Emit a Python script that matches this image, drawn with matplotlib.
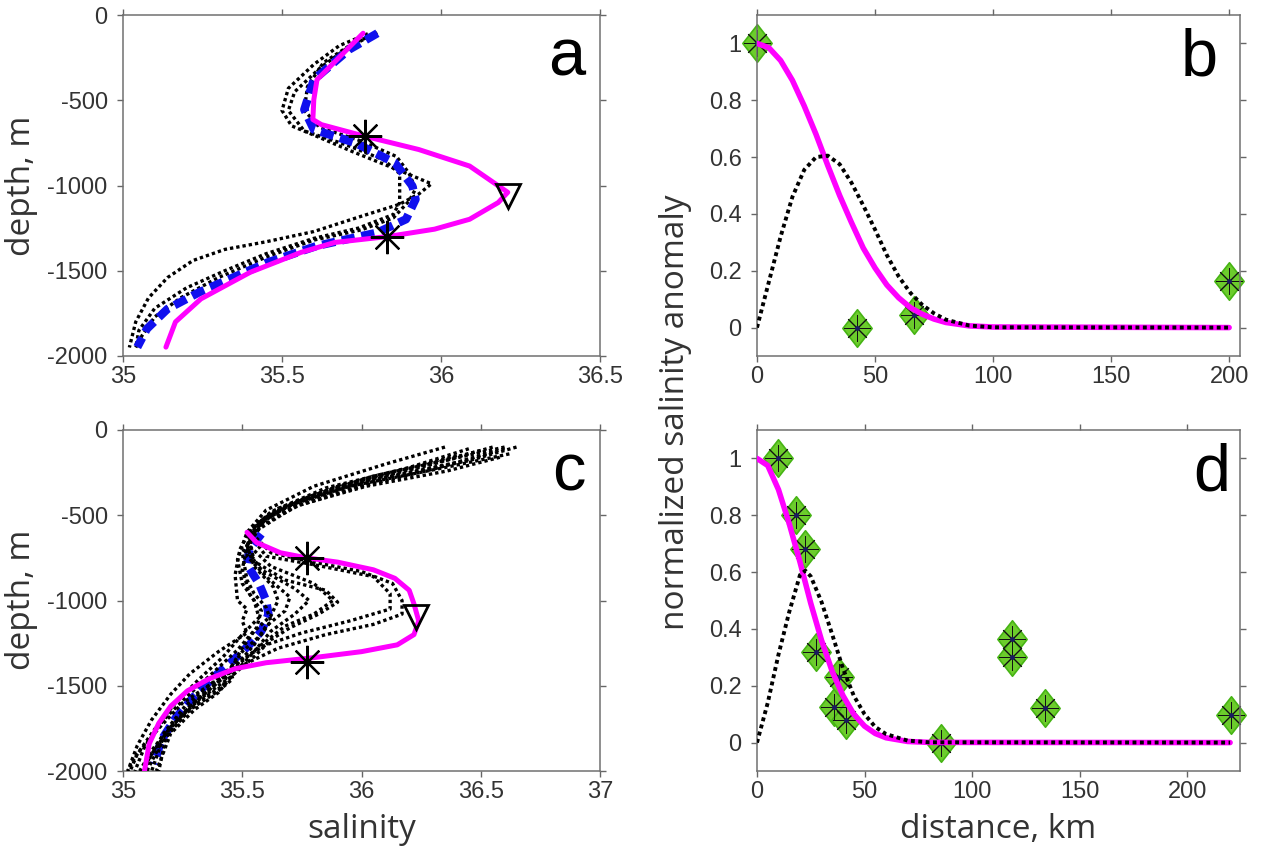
import matplotlib
matplotlib.use('Agg')
import matplotlib.pyplot as plt
from matplotlib.path import Path

# ---------------- data ----------------
# panel a: salinity profiles (salinity, depth)
a_dot1_s = [35.77, 35.68, 35.60, 35.52, 35.50, 35.53, 35.62, 35.72, 35.80, 35.88, 35.97, 35.93, 35.87, 35.75, 35.60, 35.45, 35.32, 35.22, 35.14, 35.08, 35.04, 35.02]
a_dot1_d = [-110, -180, -290, -430, -560, -650, -720, -800, -860, -920, -990, -1050, -1110, -1180, -1270, -1330, -1375, -1440, -1540, -1660, -1800, -1950]
a_dot2_s = [35.79, 35.70, 35.62, 35.54, 35.52, 35.57, 35.70, 35.82, 35.87, 35.87, 35.87, 35.85, 35.74, 35.60, 35.45, 35.32, 35.20, 35.10, 35.05, 35.04]
a_dot2_d = [-110, -200, -310, -450, -560, -680, -760, -850, -930, -1000, -1100, -1170, -1250, -1310, -1400, -1500, -1600, -1720, -1850, -1950]
a_dot3_s = [35.80, 35.72, 35.63, 35.58, 35.57, 35.62, 35.75, 35.86, 35.90, 35.92, 35.90, 35.85, 35.75, 35.60, 35.45, 35.30, 35.18, 35.10, 35.06, 35.04]
a_dot3_d = [-105, -170, -280, -420, -560, -660, -740, -830, -930, -1020, -1090, -1190, -1260, -1320, -1420, -1540, -1660, -1770, -1880, -1950]
a_mean_s = [35.80, 35.71, 35.60, 35.57, 35.60, 35.73, 35.855, 35.91, 35.92, 35.89, 35.80, 35.61, 35.455, 35.24, 35.14, 35.075, 35.045]
a_mean_d = [-107, -204, -380, -555, -672, -750, -867, -1003, -1081, -1198, -1276, -1354, -1451, -1626, -1724, -1841, -1948]
a_fit_s = [35.755, 35.61, 35.60, 35.597, 35.624, 35.76, 35.93, 36.09, 36.21, 36.18, 36.09, 35.98, 35.834, 35.666, 35.56, 35.40, 35.245, 35.165, 35.135]
a_fit_d = [-107, -380, -497, -613, -643, -711, -789, -886, -1040, -1100, -1198, -1256, -1299, -1334, -1392, -1509, -1665, -1800, -1948]
a_star_s = [35.76, 35.83]
a_star_d = [-710, -1300]
a_tri_s = [36.21]
a_tri_d = [-1060]

# panel c: salinity profiles
c_dotA_s = [36.65, 36.45, 36.10, 35.80, 35.60, 35.55, 35.62, 35.78, 36.00, 36.13, 36.17, 36.17, 36.05, 35.85, 35.65, 35.50, 35.38, 35.25, 35.15, 35.06, 35.03]
c_dotA_d = [-100, -180, -280, -400, -520, -620, -720, -770, -830, -900, -1000, -1080, -1140, -1200, -1280, -1380, -1480, -1600, -1750, -1900, -2000]
c_dotB_s = [36.60, 36.40, 36.05, 35.75, 35.58, 35.54, 35.60, 35.80, 36.05, 36.12, 36.12, 35.95, 35.75, 35.60, 35.48, 35.36, 35.26, 35.17, 35.08]
c_dotB_d = [-110, -190, -290, -410, -530, -630, -740, -790, -860, -960, -1050, -1120, -1190, -1260, -1360, -1500, -1620, -1780, -2000]
c_dotC_s = [36.55, 36.30, 35.95, 35.70, 35.56, 35.53, 35.62, 35.80, 35.88, 35.80, 35.68, 35.58, 35.48, 35.38, 35.28, 35.18, 35.10]
c_dotC_d = [-100, -200, -320, -440, -560, -680, -800, -900, -1000, -1080, -1150, -1260, -1380, -1500, -1620, -1780, -2000]
c_dotD_s = [36.50, 36.25, 35.90, 35.66, 35.55, 35.52, 35.58, 35.72, 35.78, 35.72, 35.62, 35.55, 35.47, 35.40, 35.30, 35.20, 35.14]
c_dotD_d = [-120, -210, -330, -460, -580, -700, -820, -930, -1000, -1080, -1180, -1300, -1420, -1540, -1640, -1780, -2000]
c_dotE_s = [36.45, 36.20, 35.85, 35.62, 35.53, 35.52, 35.60, 35.70, 35.68, 35.60, 35.55, 35.45, 35.33, 35.22, 35.12, 35.07]
c_dotE_d = [-110, -220, -340, -480, -600, -740, -860, -980, -1060, -1150, -1260, -1420, -1560, -1700, -1880, -2000]
c_dotF_s = [36.35, 36.10, 35.80, 35.60, 35.52, 35.48, 35.50, 35.55, 35.57, 35.50, 35.42, 35.32, 35.22, 35.13, 35.05, 35.02]
c_dotF_d = [-100, -200, -330, -470, -600, -760, -900, -1000, -1100, -1200, -1330, -1460, -1600, -1760, -1920, -2000]
c_dotG_s = [36.62, 36.35, 35.95, 35.68, 35.54, 35.49, 35.47, 35.48, 35.52, 35.50, 35.52, 35.40, 35.28, 35.20, 35.12, 35.06, 35.02]
c_dotG_d = [-140, -220, -330, -450, -570, -700, -850, -1000, -1050, -1120, -1190, -1300, -1430, -1550, -1700, -1850, -2000]
c_dotH_s = [36.55, 36.30, 36.00, 35.72, 35.56, 35.50, 35.52, 35.55, 35.60, 35.62, 35.58, 35.50, 35.44, 35.42, 35.35, 35.25, 35.16, 35.12]
c_dotH_d = [-130, -230, -330, -450, -590, -720, -880, -960, -1040, -1120, -1200, -1300, -1420, -1500, -1560, -1680, -1840, -2000]
c_dotI_s = [36.40, 36.15, 35.88, 35.65, 35.55, 35.52, 35.55, 35.63, 35.65, 35.62, 35.55, 35.50, 35.45, 35.46, 35.40, 35.28, 35.18, 35.15]
c_dotI_d = [-150, -240, -340, -460, -560, -680, -800, -920, -1000, -1090, -1180, -1280, -1400, -1460, -1530, -1640, -1800, -2000]
c_dotJ_s = [36.60, 36.38, 36.05, 35.78, 35.60, 35.53, 35.55, 35.68, 35.85, 35.90, 35.82, 35.70, 35.62, 35.55, 35.45, 35.32, 35.20, 35.12, 35.09]
c_dotJ_d = [-100, -170, -270, -390, -510, -640, -770, -880, -940, -1010, -1080, -1160, -1230, -1330, -1450, -1580, -1740, -1900, -2000]
c_dotK_s = [36.58, 36.36, 36.02, 35.74, 35.58, 35.52, 35.50, 35.53, 35.58, 35.56, 35.48, 35.38, 35.27, 35.17, 35.09, 35.05]
c_dotK_d = [-160, -240, -330, -440, -560, -680, -820, -960, -1060, -1160, -1290, -1420, -1560, -1700, -1860, -2000]
c_mean_s = [35.58, 35.53, 35.52, 35.57, 35.60, 35.61, 35.58, 35.53, 35.47, 35.38, 35.30, 35.22, 35.16, 35.13]
c_mean_d = [-610, -700, -790, -900, -1000, -1080, -1180, -1260, -1340, -1450, -1560, -1690, -1820, -1960]
c_fit_s = [35.52, 35.56, 35.66, 35.77, 35.90, 36.05, 36.14, 36.20, 36.22, 36.24, 36.22, 36.15, 36.00, 35.80, 35.60, 35.47, 35.36, 35.27, 35.20, 35.15, 35.11, 35.09]
c_fit_d = [-600, -660, -720, -750, -775, -820, -870, -940, -1020, -1120, -1200, -1260, -1300, -1335, -1365, -1400, -1460, -1530, -1620, -1720, -1840, -2000]
c_star_s = [35.77, 35.77]
c_star_d = [-750, -1360]
c_tri_s = [36.23]
c_tri_d = [-1095]

# panel b: normalized anomaly vs distance
b_fit_x = [0, 5, 10, 15, 20, 25, 30, 35, 40, 45, 50, 55, 60, 65, 70, 75, 80, 90, 100, 200]
b_fit_y = [1.0, 0.985, 0.94, 0.87, 0.78, 0.68, 0.57, 0.465, 0.37, 0.28, 0.21, 0.15, 0.105, 0.07, 0.047, 0.03, 0.018, 0.006, 0.002, 0.0]
b_dot_x = [0, 5, 10, 15, 20, 25, 30, 35, 40, 45, 50, 55, 60, 65, 70, 75, 80, 90, 100, 200]
b_dot_y = [0.0, 0.16, 0.32, 0.46, 0.555, 0.60, 0.605, 0.575, 0.51, 0.43, 0.345, 0.255, 0.18, 0.122, 0.08, 0.05, 0.028, 0.007, 0.001, 0.0]
b_obs_x = [0, 42.5, 66.5, 200]
b_obs_y = [1.0, 0.0, 0.045, 0.165]

# panel d
d_fit_x = [0, 5, 10, 15, 20, 25, 30, 35, 40, 45, 50, 55, 60, 70, 80, 220]
d_fit_y = [1.0, 0.975, 0.89, 0.77, 0.635, 0.49, 0.36, 0.25, 0.165, 0.10, 0.058, 0.032, 0.017, 0.004, 0.0007, 0.0]
d_dot_x = [0, 5, 10, 15, 20, 22.5, 25, 30, 35, 40, 45, 50, 55, 60, 70, 80, 220]
d_dot_y = [0.0, 0.14, 0.31, 0.46, 0.59, 0.605, 0.585, 0.495, 0.38, 0.26, 0.165, 0.10, 0.055, 0.03, 0.007, 0.001, 0.0]
d_obs_x = [9.7, 18.1, 22.3, 27.3, 35.7, 38.3, 41.6, 85.7, 118.6, 118.6, 133.9, 220.3]
d_obs_y = [1.0, 0.80, 0.68, 0.32, 0.125, 0.23, 0.08, 0.0, 0.365, 0.30, 0.122, 0.098]

sal_ticks_a = [35, 35.5, 36, 36.5]
sal_ticks_c = [35, 35.5, 36, 36.5, 37]
depth_ticks = [0, -500, -1000, -1500, -2000]
dist_ticks = [0, 50, 100, 150, 200]
anom_ticks = [0, 0.2, 0.4, 0.6, 0.8, 1.0]

# ---------------- style ----------------
plt.rcParams['font.family'] = ['Liberation Sans', 'DejaVu Sans']
MAG = '#ff00ff'
BLUE = '#1010ee'
DOT = (0, (1.0, 0.9))

fig = plt.figure(figsize=(12.65, 8.56), dpi=100)
W, H = 1265.0, 856.0


def box(l, r, t, b):
    return [l / W, 1 - b / H, (r - l) / W, (b - t) / H]


axa = fig.add_axes(box(123, 600, 15, 356))
axb = fig.add_axes(box(757, 1240, 15, 356))
axc = fig.add_axes(box(123, 600, 430, 771))
axd = fig.add_axes(box(757, 1240, 430, 771))


def fmt(v):
    return '%g' % v


def style(ax, xlim, xticks, ylim, yticks):
    ax.set_xlim(xlim)
    ax.set_ylim(ylim)
    ax.set_xticks(xticks)
    ax.set_yticks(yticks)
    ax.set_xticklabels([fmt(v) for v in xticks])
    ax.set_yticklabels([fmt(v) for v in yticks])
    ax.tick_params(direction='out', length=4, width=1, color='#666666',
                   labelsize=17, labelcolor='#333333', top=True, right=True)
    ax.tick_params(axis='x', pad=3.5)
    ax.tick_params(axis='y', pad=7)
    for s in ax.spines.values():
        s.set_color('#707070')
        s.set_linewidth(1.1)


# diamond marker path (slightly narrower than tall)
diam = Path([(0, 1), (0.78, 0), (0, -1), (-0.78, 0), (0, 1)],
            [Path.MOVETO, Path.LINETO, Path.LINETO, Path.LINETO, Path.CLOSEPOLY])

# ---- panel a ----
for s_, d_ in [(a_dot1_s, a_dot1_d), (a_dot2_s, a_dot2_d), (a_dot3_s, a_dot3_d)]:
    axa.plot(s_, d_, color='black', lw=2.4, linestyle=DOT, zorder=2)
axa.plot(a_mean_s, a_mean_d, color=BLUE, lw=6, dashes=(1.6, 0.8), zorder=3)
axa.plot(a_fit_s, a_fit_d, color=MAG, lw=3.6, zorder=4, solid_capstyle='round')
axa.plot(a_star_s, a_star_d, linestyle='none', marker=(8, 2, 0), ms=24, mew=1.6, color='black', zorder=5)
axa.plot(a_tri_s, a_tri_d, linestyle='none', marker='v', ms=17, mew=2, mfc='none', mec='black', zorder=5)
style(axa, (35, 36.5), sal_ticks_a, (-2000, 0), depth_ticks)

# ---- panel c ----
axc.plot(c_mean_s, c_mean_d, color=BLUE, lw=6, dashes=(1.6, 0.8), zorder=2)
for s_, d_ in [(c_dotA_s, c_dotA_d), (c_dotB_s, c_dotB_d), (c_dotC_s, c_dotC_d),
               (c_dotD_s, c_dotD_d), (c_dotE_s, c_dotE_d), (c_dotF_s, c_dotF_d),
               (c_dotG_s, c_dotG_d), (c_dotH_s, c_dotH_d), (c_dotI_s, c_dotI_d),
               (c_dotJ_s, c_dotJ_d), (c_dotK_s, c_dotK_d)]:
    axc.plot(s_, d_, color='black', lw=2.4, linestyle=DOT, zorder=3)
axc.plot(c_fit_s, c_fit_d, color=MAG, lw=3.6, zorder=4, solid_capstyle='round')
axc.plot(c_star_s, c_star_d, linestyle='none', marker=(8, 2, 0), ms=24, mew=1.6, color='black', zorder=5)
axc.plot(c_tri_s, c_tri_d, linestyle='none', marker='v', ms=17, mew=2, mfc='none', mec='black', zorder=5)
style(axc, (35, 37), sal_ticks_c, (-2000, 0), depth_ticks)


# ---- panels b, d ----
def obs(ax, x, y):
    ax.plot(x, y, linestyle='none', marker=diam, ms=27, mfc='#6ccc2c', mec='#46b414', mew=1.2, zorder=2, clip_on=False)
    ax.plot(x, y, linestyle='none', marker=(8, 2, 0), ms=19, mew=0.7, color='#111111', zorder=2.1, clip_on=False)
    ax.plot(x, y, linestyle='none', marker='o', ms=3.5, mew=0, color='#1a1a60', zorder=2.2, clip_on=False)


obs(axb, b_obs_x, b_obs_y)
axb.plot(b_fit_x, b_fit_y, color=MAG, lw=4, zorder=3, solid_capstyle='round')
axb.plot(b_dot_x, b_dot_y, color='black', lw=2.8, linestyle=DOT, zorder=4)
style(axb, (0, 204.6), dist_ticks, (-0.1, 1.1), anom_ticks)

obs(axd, d_obs_x, d_obs_y)
axd.plot(d_fit_x, d_fit_y, color=MAG, lw=4, zorder=3, solid_capstyle='round')
axd.plot(d_dot_x, d_dot_y, color='black', lw=2.8, linestyle=DOT, zorder=4)
style(axd, (0, 224.6), dist_ticks, (-0.1, 1.1), anom_ticks)

# panel letters
for ax, lab, xr in [(axa, 'a', 0.97), (axb, 'b', 0.955), (axc, 'c', 0.97), (axd, 'd', 0.98)]:
    ax.text(xr, 0.822, lab, transform=ax.transAxes, ha='right', va='baseline',
            fontsize=48, color='black', zorder=10)

# axis labels
LF = ['Open Sans', 'DejaVu Sans']
LS = 24
fig.text(21 / W, 1 - 186 / H, 'depth, m', rotation=90, ha='center', va='center', fontsize=LS, family=LF, color='#333333')
fig.text(21 / W, 1 - 600 / H, 'depth, m', rotation=90, ha='center', va='center', fontsize=LS, family=LF, color='#333333')
fig.text(362 / W, 1 - 830 / H, 'salinity', ha='center', va='center', fontsize=LS, family=LF, color='#333333')
fig.text(998 / W, 1 - 830 / H, 'distance, km', ha='center', va='center', fontsize=LS, family=LF, color='#333333')
fig.text(676 / W, 1 - 412 / H, 'normalized salinity anomaly', rotation=90, ha='center', va='center', fontsize=LS, family=LF, color='#333333')

fig.savefig('out.png', dpi=100, facecolor='white')
